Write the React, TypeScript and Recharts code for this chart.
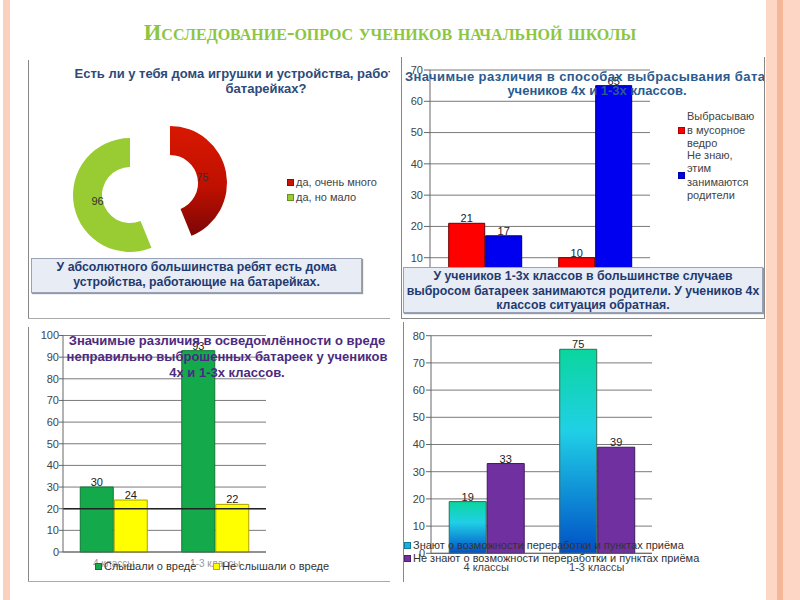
import {
  BarChart, Bar, XAxis, YAxis, CartesianGrid, LabelList, ReferenceLine,
  PieChart, Pie, Cell,
} from 'recharts'

const FONT = '"Liberation Sans", Arial, sans-serif'

// panel 1 - devices on batteries at home
const pieNames = ['да, очень много', 'да, но мало']
const pieValues = [75, 96]
const pieColors = ['url(#redSlice)', '#99cc33']
const pieKeyColors = ['#cc1100', '#99cc33']

const classes = ['4 классы', '1-3 классы']

// panel 2 - how batteries are thrown away
const throwNames = ['Выбрасываю в мусорное ведро', 'Не знаю, этим занимаются родители']
const throwTrash = [21, 10]
const throwParents = [17, 65]
const throwTicks = [0, 10, 20, 30, 40, 50, 60, 70]

// panel 3 - heard about harm
const harmNames = ['Слышали о вреде', 'Не слышали о вреде']
const harmHeard = [30, 93]
const harmNotHeard = [24, 22]
const harmTicks = [0, 10, 20, 30, 40, 50, 60, 70, 80, 90, 100]

// panel 4 - know about recycling
const recNames = ['Знают о возможности переработки и пунктах приёма', 'Не знают о возможности переработки и пунктах приёма']
const recKnow = [19, 75]
const recDont = [33, 39]
const recTicks = [0, 10, 20, 30, 40, 50, 60, 70, 80]

const pieData = pieNames.map((n, i) => ({ name: n, value: pieValues[i] }))
const throwData = classes.map((c, i) => ({ name: c, a: throwTrash[i], b: throwParents[i] }))
const harmData = classes.map((c, i) => ({ name: c, a: harmHeard[i], b: harmNotHeard[i] }))
const recData = classes.map((c, i) => ({ name: c, a: recKnow[i], b: recDont[i] }))

const tick = { fontSize: 11, fill: '#444', fontFamily: FONT }
const lbl = { fontSize: 11, fill: '#222', fontFamily: FONT }

const pieLabel = (which: number) => (p: any) => {
  if (p.index !== which) return null
  const rad = Math.PI / 180
  const r = p.innerRadius + 5
  const x = p.cx + r * Math.cos(-p.midAngle * rad)
  const y = p.cy + r * Math.sin(-p.midAngle * rad)
  return <text x={x} y={y} textAnchor="middle" dominantBaseline="central" fontSize={11} fill="#333" fontFamily={FONT}>{p.value}</text>
}

function Abs({ l, t, w, h, style, children }: any) {
  return <div style={{ position: 'absolute', left: l, top: t, width: w, height: h, ...style }}>{children}</div>
}

function Title({ l, t, w, color, lh, lines, align = 'center', ls = 0 }: any) {
  return (
    <Abs l={l} t={t} w={w} style={{ textAlign: align, color, fontWeight: 'bold', fontSize: 13, lineHeight: `${lh}px`, whiteSpace: 'nowrap', letterSpacing: ls }}>
      {lines.map((s: string, i: number) => <div key={i}>{s}</div>)}
    </Abs>
  )
}

function Key({ color, children, style }: any) {
  return (
    <div style={{ display: 'flex', alignItems: 'center', ...style }}>
      <span style={{ width: 7, height: 7, background: color, border: '1px solid rgba(0,0,0,0.3)', boxSizing: 'border-box', flex: 'none', marginRight: 2 }} />
      <span>{children}</span>
    </div>
  )
}

function Note({ l, t, w, h, lh, lines }: any) {
  return (
    <Abs l={l} t={t} w={w} h={h} style={{
      background: '#e8ecf5', border: '1px solid #9aa3b5', boxShadow: '1px 1px 1px #999',
      boxSizing: 'border-box', textAlign: 'center', color: '#1f3a70', fontWeight: 'bold',
      fontSize: 12.3, lineHeight: `${lh}px`, paddingTop: 1, whiteSpace: 'nowrap',
    }}>
      {lines.map((s: string, i: number) => <div key={i}>{s}</div>)}
    </Abs>
  )
}

export default function App() {
  return (
    <div style={{ position: 'absolute', left: 0, top: 0, width: 800, height: 600, background: '#fff', overflow: 'hidden', fontFamily: FONT }}>
      {/* slide decoration */}
      <Abs l={3} t={0} w={7} h={600} style={{ background: '#fcd0bf' }} />
      <Abs l={766} t={0} w={34} h={600} style={{ background: '#fdd6c6' }} />
      <Abs l={777} t={0} w={6} h={600} style={{ background: '#f6b799' }} />

      <Abs l={0} t={19} w={780} style={{
        textAlign: 'center', fontFamily: '"Liberation Serif", "DejaVu Serif", serif', fontWeight: 'bold',
        fontVariant: 'small-caps', fontSize: 22.5, color: '#8dc63f', lineHeight: '28px',
      }}>Исследование-опрос учеников начальной школы</Abs>

      {/* frames */}
      <Abs l={28} t={60} w={1} h={258} style={{ background: '#888' }} />
      <Abs l={28} t={318} w={362} h={1} style={{ background: '#aaa' }} />
      <Abs l={401} t={57} w={1} h={261} style={{ background: '#888' }} />
      <Abs l={764} t={57} w={1} h={261} style={{ background: '#888' }} />
      <Abs l={401} t={318} w={364} h={1} style={{ background: '#888' }} />
      <Abs l={28} t={327} w={1} h={255} style={{ background: '#888' }} />
      <Abs l={28} t={581} w={362} h={1} style={{ background: '#aaa' }} />
      <Abs l={403} t={322} w={1} h={260} style={{ background: '#888' }} />

      {/* panel 1: donut */}
      <Abs l={28} t={60}>
        <PieChart width={362} height={250} margin={{ top: 0, right: 0, bottom: 0, left: 0 }}>
          <defs>
            <linearGradient id="redSlice" x1="0" y1="0" x2="0" y2="1">
              <stop offset="0%" stopColor="#d81800" />
              <stop offset="55%" stopColor="#c01000" />
              <stop offset="100%" stopColor="#7c0606" />
            </linearGradient>
          </defs>
          <Pie data={pieData} dataKey="value" cx={142} cy={123} innerRadius={28} outerRadius={57}
            startAngle={90} endAngle={-270} stroke="none" label={pieLabel(0)} labelLine={false} isAnimationActive={false}>
            {pieData.map((_, i) => <Cell key={i} fill={i === 0 ? pieColors[0] : 'none'} />)}
          </Pie>
          <Pie data={pieData} dataKey="value" cx={102} cy={135} innerRadius={28} outerRadius={57}
            startAngle={90} endAngle={-270} stroke="none" label={pieLabel(1)} labelLine={false} isAnimationActive={false}>
            {pieData.map((_, i) => <Cell key={i} fill={i === 1 ? pieColors[1] : 'none'} />)}
          </Pie>
        </PieChart>
      </Abs>
      <Abs l={287} t={175} style={{ fontSize: 11, color: '#444', lineHeight: '15px' }}>
        {pieNames.map((n, i) => <Key key={i} color={pieKeyColors[i]}>{n}</Key>)}
      </Abs>
      <Abs l={28} t={67} w={362} h={40} style={{ overflow: 'hidden' }}>
        <Title l={10} t={0} w={456} color="#2d4a7a" lh={14.5}
          lines={['Есть ли у тебя дома игрушки и устройства, работающие на', 'батарейках?']} />
      </Abs>
      <Note l={31} t={258} w={331} h={35} lh={15}
        lines={['У абсолютного большинства ребят есть дома', 'устройства, работающие на батарейках.']} />

      {/* panel 2 */}
      <Abs l={400} t={55}>
        <BarChart width={260} height={240} data={throwData} margin={{ top: 15, right: 10, bottom: 6, left: 0 }}
          barCategoryGap="17%" barGap={1}>
          <CartesianGrid vertical={false} stroke="#7a7a7a" />
          <XAxis dataKey="name" hide />
          <YAxis width={30} domain={[0, 70]} ticks={throwTicks} interval={0} tick={tick}
            axisLine={{ stroke: '#666' }} tickLine={{ stroke: '#666' }} tickSize={6} tickMargin={1} />
          <Bar dataKey="a" name={throwNames[0]} fill="#ff0000" stroke="#6a0000" isAnimationActive={false}>
            <LabelList dataKey="a" position="top" offset={1} style={lbl} />
          </Bar>
          <Bar dataKey="b" name={throwNames[1]} fill="#0000f0" stroke="#000050" isAnimationActive={false}>
            <LabelList dataKey="b" position="top" offset={1} style={lbl} />
          </Bar>
        </BarChart>
      </Abs>
      <Abs l={678} t={110} w={84} style={{ fontSize: 11, color: '#444', lineHeight: '13.5px' }}>
        <Key color="#ff0000"><div style={{ width: 72 }}>{throwNames[0]}</div></Key>
        <Key color="#0000f0" style={{ marginTop: -2 }}><div style={{ width: 72 }}>{throwNames[1]}</div></Key>
      </Abs>
      <Abs l={402} t={70} w={362} h={40} style={{ overflow: 'hidden' }}>
        <Title l={3} t={0} w={420} color="#2a5a8e" lh={13.5} align="left" ls={0.4}
          lines={['Значимые различия в способах выбрасывания батареек у']} />
        <Title l={0} t={13.5} w={390} color="#2a5a8e" lh={13.5}
          lines={['учеников 4х и 1-3х классов.']} />
      </Abs>
      <Note l={403} t={267} w={360} h={46} lh={14.5}
        lines={['У учеников 1-3х классов в большинстве случаев', 'выбросом батареек занимаются родители. У учеников 4х', 'классов ситуация обратная.']} />

      {/* panel 3 */}
      <Abs l={28} t={320}>
        <BarChart width={250} height={270} data={harmData} margin={{ top: 15.5, right: 12, bottom: 18, left: 0 }}
          barCategoryGap="17%" barGap={1}>
          <CartesianGrid vertical={false} stroke="#7a7a7a" />
          <XAxis dataKey="name" height={20} tick={{ ...tick, fontSize: 10, fill: '#999' }} tickLine={false}
            axisLine={{ stroke: '#666' }} />
          <YAxis width={35} domain={[0, 100]} ticks={harmTicks} interval={0} tick={tick}
            axisLine={{ stroke: '#666' }} tickLine={{ stroke: '#666' }} tickSize={4} tickMargin={0} />
          <ReferenceLine y={20} stroke="#222" strokeWidth={1.5} />
          <Bar dataKey="a" name={harmNames[0]} fill="#14aa4c" stroke="#0b7a33" isAnimationActive={false}>
            <LabelList dataKey="a" position="top" offset={1} style={lbl} />
          </Bar>
          <Bar dataKey="b" name={harmNames[1]} fill="#ffff00" stroke="#b0a000" isAnimationActive={false}>
            <LabelList dataKey="b" position="top" offset={1} style={lbl} />
          </Bar>
        </BarChart>
      </Abs>
      <Abs l={95} t={559} style={{ fontSize: 11, color: '#333', display: 'flex', lineHeight: '14px' }}>
        <Key color="#14aa4c" style={{ width: 118 }}>{harmNames[0]}</Key>
        <Key color="#ffff00">{harmNames[1]}</Key>
      </Abs>
      <Title l={52} t={333} w={350} color="#4b2a80" lh={16}
        lines={['Значимые различия в осведомлённости о вреде', 'неправильно выброшенных батареек у учеников', '4х и 1-3х классов.']} />

      {/* panel 4 */}
      <Abs l={401} t={320}>
        <BarChart width={261} height={270} data={recData} margin={{ top: 15.7, right: 10, bottom: 16.7, left: 0 }}
          barCategoryGap="16.5%" barGap={1}>
          <defs>
            <linearGradient id="cyanBar" x1="0" y1="0" x2="0" y2="1">
              <stop offset="0%" stopColor="#0ad69e" />
              <stop offset="40%" stopColor="#20d0e6" />
              <stop offset="100%" stopColor="#0050c6" />
            </linearGradient>
          </defs>
          <CartesianGrid vertical={false} stroke="#7a7a7a" />
          <XAxis dataKey="name" height={20} tick={{ ...tick, fontSize: 11, fill: '#444' }} tickLine={false}
            axisLine={{ stroke: '#666' }} tickMargin={4} />
          <YAxis width={30} domain={[0, 80]} ticks={recTicks} interval={0} tick={tick}
            axisLine={{ stroke: '#666' }} tickLine={{ stroke: '#666' }} tickSize={5} tickMargin={1} />
          <Bar dataKey="a" name={recNames[0]} fill="url(#cyanBar)" stroke="#3a6a50" isAnimationActive={false}>
            <LabelList dataKey="a" position="top" offset={1} style={lbl} />
          </Bar>
          <Bar dataKey="b" name={recNames[1]} fill="#7030a0" stroke="#3d1a5e" isAnimationActive={false}>
            <LabelList dataKey="b" position="top" offset={1} style={lbl} />
          </Bar>
        </BarChart>
      </Abs>
      <Abs l={404} t={539} style={{ fontSize: 11, color: '#333', lineHeight: '13px' }}>
        <Key color="#1ab0e0">{recNames[0]}</Key>
        <Key color="#7030a0">{recNames[1]}</Key>
      </Abs>
    </div>
  )
}
